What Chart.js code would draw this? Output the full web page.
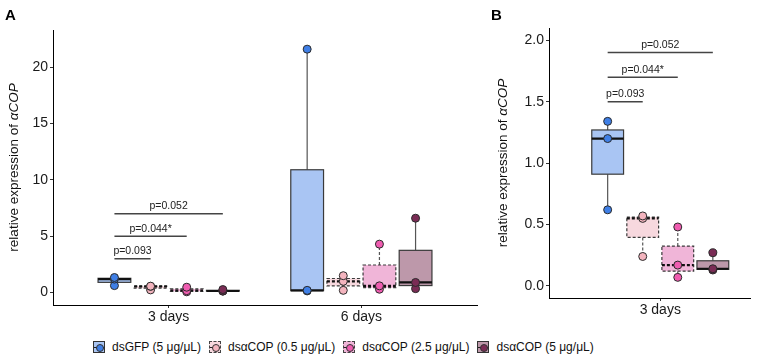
<!DOCTYPE html>
<html>
<head>
<meta charset="utf-8">
<script src="https://cdn.jsdelivr.net/npm/chart.js@4.4.1/dist/chart.umd.min.js"></script>
<style>
  body { margin: 0; background: #fff; font-family: "Liberation Sans", Arial, sans-serif; }
  #wrap { position: relative; width: 765px; height: 361px; overflow: hidden; }
  canvas { position: absolute; top: 0; }
  .tag { position: absolute; font-weight: bold; font-size: 15px; color: #000; }
  #legend { position: absolute; left: 93px; top: 340px; display: flex; align-items: center; font-size: 12px; color: #111; }
  .item { display: flex; align-items: center; margin-right: 8px; }
  .key { position: relative; width: 12px; height: 12px; margin-right: 7px; box-sizing: border-box; border: 1px solid #333; }
  .key.dash { border: 1px dashed #444; }
  .key i { position: absolute; left: 2px; top: 2px; width: 6px; height: 6px; border-radius: 50%; border: 1px solid #333; }
  .key b { position: absolute; left: 0; right: 0; top: 5px; height: 1px; background: #222; }
</style>
</head>
<body>
<div id="wrap">
  <canvas id="chartA" width="490" height="330" style="left:0"></canvas>
  <canvas id="chartB" width="275" height="330" style="left:490px"></canvas>
  <div class="tag" style="left:5px;top:6px">A</div>
  <div class="tag" style="left:491px;top:6px">B</div>
  <div id="legend"></div>
</div>
<script>
const groups = ['dsGFP (5 μg/μL)', 'dsαCOP (0.5 μg/μL)', 'dsαCOP (2.5 μg/μL)', 'dsαCOP (5 μg/μL)'];
const daysA = ['3 days', '6 days'];
const daysB = ['3 days'];

// relative expression, three replicates per group
const day3 = [
  [0.62, 1.20, 1.34],
  [0.24, 0.55, 0.57],
  [0.07, 0.17, 0.48],
  [0.13, 0.14, 0.27],
];
const day6 = [
  [0.15, 0.20, 21.6],
  [0.20, 1.00, 1.50],
  [0.30, 0.60, 4.30],
  [0.35, 0.90, 6.60],
];

const ticksA = [0, 5, 10, 15, 20];
const ticksB = [0, 0.5, 1.0, 1.5, 2.0];
const tickLabelsB = ['0.0', '0.5', '1.0', '1.5', '2.0'];

const pLabels = ['p=0.093', 'p=0.044*', 'p=0.052'];
const pHeightsA = [3, 5, 7];
const pHeightsB = [1.5, 1.7, 1.9];

const fills = ['#a9c5f3', '#f7d8de', '#f0b5d8', '#bd98aa'];
const dots = ['#3f7fe6', '#f3b4be', '#ef5cb0', '#7a2c55'];
const dashed = [false, true, true, false];

const DODGE = 0.1875;
const BOXW = 0.17;

function quant(arr, p) {
  const s = [...arr].sort((a, b) => a - b);
  const h = (s.length - 1) * p;
  const lo = Math.floor(h);
  const hi = Math.min(lo + 1, s.length - 1);
  return s[lo] + (h - lo) * (s[hi] - s[lo]);
}

function boxesFor(days) {
  const out = [];
  days.forEach((set, d) => {
    set.forEach((vals, g) => {
      const q1 = quant(vals, 0.25), q3 = quant(vals, 0.75), med = quant(vals, 0.5);
      const iqr = q3 - q1;
      const lo = Math.min(...vals.filter(v => v >= q1 - 1.5 * iqr));
      const hi = Math.max(...vals.filter(v => v <= q3 + 1.5 * iqr));
      out.push({ pos: d + 1 + (g - 1.5) * DODGE, q1, q3, med, lo, hi, g });
    });
  });
  return out;
}

function pointsFor(days) {
  return groups.map((name, g) => ({
    label: name,
    data: days.flatMap((set, d) => set[g].map(v => ({ x: d + 1 + (g - 1.5) * DODGE, y: v }))),
    pointRadius: 4,
    pointBorderWidth: 1,
    pointBorderColor: '#2a2a2a',
    pointBackgroundColor: dots[g],
    showLine: false,
  }));
}

const boxPlugin = {
  id: 'boxes',
  beforeDatasetsDraw(chart, args, opts) {
    const { ctx, scales: { x, y } } = chart;
    ctx.save();
    opts.boxes.forEach(b => {
      const cx = x.getPixelForValue(b.pos);
      const half = (x.getPixelForValue(b.pos + BOXW / 2) - x.getPixelForValue(b.pos - BOXW / 2)) / 2;
      const top = y.getPixelForValue(b.q3), bot = y.getPixelForValue(b.q1);
      const dash = dashed[b.g] ? [3, 2] : [];
      // whiskers
      ctx.setLineDash(dash);
      ctx.strokeStyle = '#555';
      ctx.lineWidth = 1.2;
      ctx.beginPath();
      ctx.moveTo(cx, top); ctx.lineTo(cx, y.getPixelForValue(b.hi));
      ctx.moveTo(cx, bot); ctx.lineTo(cx, y.getPixelForValue(b.lo));
      ctx.stroke();
      // box
      ctx.fillStyle = fills[b.g];
      ctx.fillRect(cx - half, top, half * 2, bot - top);
      ctx.strokeStyle = '#3a3a3a';
      ctx.strokeRect(cx - half, top, half * 2, bot - top);
      // median
      const m = y.getPixelForValue(b.med);
      ctx.strokeStyle = '#111';
      ctx.lineWidth = 2.2;
      ctx.beginPath();
      ctx.moveTo(cx - half, m); ctx.lineTo(cx + half, m);
      ctx.stroke();
    });
    ctx.restore();
  },
  afterDraw(chart, args, opts) {
    const { ctx, chartArea, scales: { x, y } } = chart;
    ctx.save();
    // p-value brackets
    ctx.strokeStyle = '#444';
    ctx.lineWidth = 1.5;
    ctx.fillStyle = '#222';
    ctx.font = '10.5px "Liberation Sans", Arial, sans-serif';
    ctx.textAlign = 'center';
    ctx.textBaseline = 'bottom';
    opts.pHeights.forEach((h, i) => {
      const x0 = x.getPixelForValue(1 - 1.5 * DODGE);
      const x1 = x.getPixelForValue(1 + (i - 0.5) * DODGE);
      const py = y.getPixelForValue(h);
      ctx.beginPath();
      ctx.moveTo(x0, py); ctx.lineTo(x1, py);
      ctx.stroke();
      ctx.fillText(pLabels[i], (x0 + x1) / 2, py - 2);
    });
    // y axis title with italic gene name
    const plain = 'relative expression of ', ital = 'αCOP';
    const fPlain = '13.5px "Liberation Sans", Arial, sans-serif';
    const fItal = 'italic 13.5px "Liberation Sans", Arial, sans-serif';
    ctx.font = fPlain; const w1 = ctx.measureText(plain).width;
    ctx.font = fItal; const w2 = ctx.measureText(ital).width;
    ctx.translate(opts.titleX, (chartArea.top + chartArea.bottom) / 2);
    ctx.rotate(-Math.PI / 2);
    ctx.textAlign = 'left';
    ctx.textBaseline = 'middle';
    ctx.fillStyle = '#111';
    ctx.font = fPlain; ctx.fillText(plain, -(w1 + w2) / 2, 0);
    ctx.font = fItal; ctx.fillText(ital, -(w1 + w2) / 2 + w1, 0);
    ctx.restore();
  }
};

function axisX(min, max, labels, height) {
  return {
    type: 'linear', min, max,
    afterBuildTicks: s => { s.ticks = labels.map((l, i) => ({ value: i + 1 })); },
    afterFit: s => { s.height = height; },
    ticks: { autoSkip: false, callback: (v, i) => labels[i], color: '#1a1a1a', font: { size: 14, family: '"Liberation Sans", Arial' }, padding: 1 },
    grid: { display: true, drawOnChartArea: false, tickLength: 3, color: '#333' },
    border: { display: true, color: '#000', width: 1 },
  };
}

function axisY(min, max, ticks, labels, width) {
  return {
    min, max,
    afterBuildTicks: s => { s.ticks = ticks.map(v => ({ value: v })); },
    afterFit: s => { s.width = width; },
    ticks: { autoSkip: false, callback: (v, i) => labels[i], color: '#1a1a1a', font: { size: 14, family: '"Liberation Sans", Arial' }, padding: 2 },
    grid: { display: true, drawOnChartArea: false, tickLength: 3, color: '#333' },
    border: { display: true, color: '#000', width: 1 },
  };
}

Chart.register(boxPlugin);

new Chart(document.getElementById('chartA'), {
  type: 'scatter',
  data: { datasets: pointsFor([day3, day6]) },
  options: {
    responsive: false,
    animation: false,
    layout: { padding: { top: 30, right: 13, left: 0, bottom: 0 } },
    plugins: {
      legend: { display: false },
      tooltip: { enabled: false },
      boxes: { boxes: boxesFor([day3, day6]), pHeights: pHeightsA, titleX: 14 },
    },
    scales: {
      x: axisX(0.4, 2.6, daysA, 25),
      y: axisY(-1.1, 23.3, ticksA, ticksA.map(String), 53),
    },
  },
});

new Chart(document.getElementById('chartB'), {
  type: 'scatter',
  data: { datasets: pointsFor([day3]) },
  options: {
    responsive: false,
    animation: false,
    layout: { padding: { top: 28, right: 15, left: 0, bottom: 0 } },
    plugins: {
      legend: { display: false },
      tooltip: { enabled: false },
      boxes: { boxes: boxesFor([day3]), pHeights: pHeightsB, titleX: 13 },
    },
    scales: {
      x: axisX(0.405, 1.48, daysB, 32),
      y: axisY(-0.098, 2.1, ticksB, tickLabelsB, 59),
    },
  },
});

const legend = document.getElementById('legend');
groups.forEach((name, g) => {
  const item = document.createElement('div');
  item.className = 'item';
  item.innerHTML = `<span class="key${dashed[g] ? ' dash' : ''}" style="background:${fills[g]}"><b></b><i style="background:${dots[g]}"></i></span><span>${name}</span>`;
  legend.appendChild(item);
});
</script>
</body>
</html>
